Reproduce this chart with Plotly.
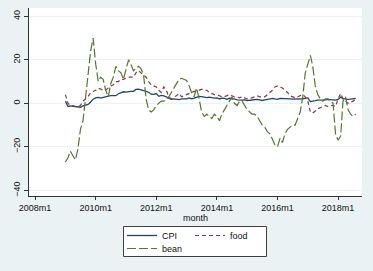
import plotly.graph_objects as go
import pandas as pd

months = pd.date_range("2009-01-01", periods=116, freq="MS")

cpi = [1.0, -1.5, -1.2, -1.4, -1.5, -1.7, -1.8, -1.2, -0.8, -0.5, 0.6, 1.9,
       2.5, 2.7, 2.4, 2.8, 3.1, 3.3, 3.5, 3.6, 3.5, 4.4, 5.0, 5.3,
       5.1, 5.4, 5.5, 5.5, 6.4, 6.5, 6.2, 6.1, 5.5, 5.1, 4.2, 4.1,
       4.5, 3.2, 3.6, 3.4, 3.0, 2.2, 1.8, 2.0, 1.9, 1.7, 2.0, 2.1,
       2.0, 2.5, 2.1, 2.4, 2.7, 3.2, 3.1, 2.7, 2.6, 2.8, 2.5, 2.4,
       2.5, 2.0, 2.4, 2.3, 1.8, 2.3, 2.0, 2.0, 1.6, 1.4, 1.5, 1.6,
       1.3, 1.4, 1.6, 1.5, 1.8, 1.6, 1.3, 1.6, 1.8, 2.0, 2.3, 2.0,
       1.8, 2.3, 2.3, 2.3, 2.0, 2.0, 1.9, 1.9, 2.0, 2.1, 2.1, 2.3,
       2.5, 0.8, 0.9, 1.2, 1.5, 1.5, 1.4, 1.6, 1.8, 1.7, 1.9, 1.5,
       1.8, 2.9, 2.1, 1.8, 1.8, 1.9, 2.1, 2.3]

food = [4, 0, -1, -1, -1.5, -1.5, -1, 1, 2, 3, 5, 5.5,
        6, 7, 6.5, 6, 6, 7, 8, 8.5, 10, 10, 11, 11,
        11.5, 12, 12, 12, 14, 15, 14, 13, 12, 10, 8.5, 8,
        7.5, 6, 5, 7.5, 6, 3, 2, 3, 3.5, 4.5, 3, 3.5,
        4, 4.5, 5, 5.5, 5.5, 6, 6.5, 6, 6, 5, 4.5, 4,
        4, 3.5, 3, 3, 3.5, 4, 3.5, 3, 3, 2.5, 3, 2.5,
        2, 2.5, 2.5, 3, 3.5, 3, 3, 3, 4, 5, 6, 7.5,
        8, 7.5, 7, 6, 5, 3.5, 3, 2.5, 3, 3.5, 4, 3,
        1, -4, -4.5, -3.5, -2.5, -2, -1.5, -1, -1.5, -1, -1, -1.5,
        2, 4.5, 2, 1, 0, 0.5, 1, 2]

bean = [-27, -25, -22, -24, -26, -21, -12, -8, 3, 15, 24, 30,
        18, 10, 12, 11, 6, 3, 9, 12, 17, 15, 14, 11,
        16, 20, 18, 15, 16, 17, 16, 13, 2, -3, -4, -3,
        -1, 0, 1, 1, 2, 3, 5, 7, 9, 11, 11.5, 11,
        10.5, 8, 5, 3, 7, 2, -4, -6, -5, -6, -7, -5,
        -6, -8, -5, -3, -1, 1, 3, 0, -1, 1, 1, -1,
        -3, -4, -5, -5, -6, -8, -10, -11, -13, -14, -17, -19,
        -20, -16, -18, -14, -12, -11, -10, -10, -7, -4, 3, 14,
        18, 22, 17, 8, 4, 2, 1, 2, 2, 1, 0, -14,
        -17, -15, 1, 3, -3, -5, -6, -5]

tick_dates = ["2008-01-01", "2010-01-01", "2012-01-01", "2014-01-01", "2016-01-01", "2018-01-01"]
tick_labels = ["2008m1", "2010m1", "2012m1", "2014m1", "2016m1", "2018m1"]
y_ticks = [-40, -20, 0, 20, 40]

FONT = "Liberation Sans, Arial, sans-serif"
BG = "#eaf2f3"

fig = go.Figure()
fig.add_trace(go.Scatter(x=months, y=cpi, name="CPI", mode="lines",
                         line=dict(color="#1a476f", width=1.3), legend="legend"))
fig.add_trace(go.Scatter(x=months, y=food, name="food", mode="lines",
                         line=dict(color="#90353b", width=1.2, dash="4px,3px"), legend="legend"))
fig.add_trace(go.Scatter(x=months, y=bean, name="bean", mode="lines",
                         line=dict(color="#55752f", width=1.2, dash="9px,3px"), legend="legend2"))

fig.add_shape(type="rect", xref="paper", yref="paper",
              x0=(123.5 - 29) / 333, x1=(266.5 - 29) / 333,
              y0=(196 - 256.5) / 188, y1=(196 - 226.5) / 188,
              line=dict(color="#404040", width=1), fillcolor="white", layer="below")

fig.update_layout(
    width=373, height=271,
    margin=dict(l=29, r=11, t=8, b=75),
    paper_bgcolor=BG, plot_bgcolor="white",
    font=dict(family=FONT, size=9, color="#111111"),
    legend=dict(orientation="h", x=(122 - 29) / 333, xanchor="left",
                y=(196 - 221) / 188, yanchor="top", bgcolor="rgba(0,0,0,0)",
                entrywidth=23, font=dict(size=9), itemwidth=30,
                tracegroupgap=0),
    legend2=dict(orientation="h", x=(122 - 29) / 333, xanchor="left",
                 y=(196 - 234) / 188, yanchor="top", bgcolor="rgba(0,0,0,0)",
                 font=dict(size=9), itemwidth=30),
    showlegend=True,
)
fig.update_xaxes(
    type="date", range=["2007-10-20", "2018-10-16"],
    tickvals=tick_dates, ticktext=tick_labels,
    ticks="outside", ticklen=3, tickcolor="#333333",
    showline=True, linecolor="#333333", linewidth=1,
    showgrid=False, zeroline=False, automargin=False,
    title=dict(text="month", standoff=0, font=dict(size=9)),
    tickfont=dict(size=9),
)
fig.update_yaxes(
    range=[-42.6, 43.8], tickvals=y_ticks,
    ticks="outside", ticklen=4, tickcolor="#333333", tickangle=-90,
    showline=True, linecolor="#333333", linewidth=1,
    showgrid=True, gridcolor=BG, gridwidth=1, zeroline=False,
    automargin=False, tickfont=dict(size=9),
)

fig.write_html("out.html", config={"displayModeBar": False},
               post_script="document.body.style.margin='0';document.body.style.padding='0';")
